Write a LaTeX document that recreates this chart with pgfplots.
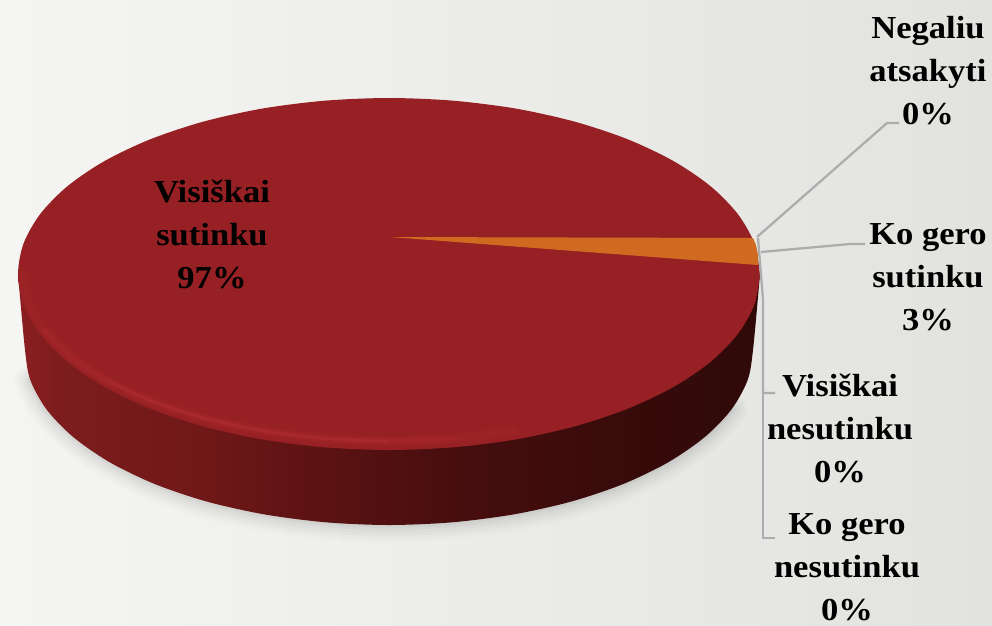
\documentclass[border=0pt]{standalone}
\usepackage{fontspec}
\setmainfont[FakeStretch=1.08]{Liberation Serif}
\usepackage{pgfplots}
\usepackage{pgfplotstable}
\pgfplotsset{compat=1.18}
\definecolor{topface}{HTML}{962023}
\definecolor{rimc}{HTML}{C23A3C}
\definecolor{wedge}{HTML}{CF6A20}
\definecolor{lead}{HTML}{ADADAD}
\definecolor{bgl}{HTML}{F5F5F3}
\definecolor{bgr}{HTML}{E2E2DF}
\definecolor{sa}{HTML}{8A1F21}
\definecolor{sb}{HTML}{7D1C1D}
\definecolor{sc}{HTML}{701818}
\definecolor{sd}{HTML}{5F1313}
\definecolor{se}{HTML}{480E0E}
\definecolor{sf}{HTML}{3A0B0B}
\definecolor{sg}{HTML}{300909}
\pgfdeclarehorizontalshading{sidewall}{100bp}{
color(0bp)=(sa);
color(25bp)=(sa);
color(27.8bp)=(sb);
color(37.3bp)=(sc);
color(44bp)=(sd);
color(54.1bp)=(se);
color(64.2bp)=(sf);
color(74.8bp)=(sg);
color(100bp)=(sg)}
\pgfplotstableread{
x y
760 274
754.4 304.6
737.6 334.2
710.3 362
673.2 387.1
627.5 408.8
574.5 426.4
515.9 439.4
453.4 447.3
389 450
324.6 447.3
262.1 439.4
203.5 426.4
150.5 408.8
104.8 387.1
67.7 362
40.4 334.2
23.6 304.6
18 274
23.6 243.4
40.4 213.8
67.7 186
104.8 160.9
150.5 139.2
203.5 121.6
262.1 108.6
324.6 100.7
389 98
453.4 100.7
515.9 108.6
574.5 121.6
627.5 139.2
673.2 160.9
710.3 186
737.6 213.8
754.4 243.4
760 274
}\topellipse
\pgfplotstableread{
x y
18 274
25 350
30.5 380.4
46.9 409.9
73.8 437.5
110.2 462.5
155 484.1
207 501.6
264.5 514.4
325.8 522.3
389 525
452.2 522.3
513.5 514.4
571 501.6
623 484.1
667.8 462.5
704.2 437.5
731.1 409.9
747.5 380.4
753 350
760 274
}\sidehull
\pgfplotstableread{
x y
30.5 380.4
46.9 409.9
73.8 437.5
110.2 462.5
155 484.1
207 501.6
264.5 514.4
325.8 522.3
389 525
452.2 522.3
513.5 514.4
571 501.6
623 484.1
667.8 462.5
704.2 437.5
731.1 409.9
}\shadowarc
\pgfplotstableread{
x y
23 274
28.6 303
45.1 331.1
72 357.5
108.6 381.3
153.7 401.9
206 418.6
263.8 430.9
325.4 438.5
389 441
452.6 438.5
514.2 430.9
}\rimA
\pgfplotstableread{
x y
45.1 331.1
72 357.5
108.6 381.3
153.7 401.9
206 418.6
263.8 430.9
325.4 438.5
389 441
452.6 438.5
}\rimB
\pgfplotstableread{
x y
108.6 381.3
153.7 401.9
206 418.6
263.8 430.9
325.4 438.5
389 441
}\rimC
\pgfplotstableread{
x y
390 237
753 238
756 245
758 255
758 265
}\wedgepts
\pgfplotstableread{
x y
757 237
887 123
899 123
}\leadA
\pgfplotstableread{
x y
761 252
850 244
865 244
}\leadB
\pgfplotstableread{
x y
758 238
763 300
763 393
775 393
}\leadC
\pgfplotstableread{
x y
763 393
763 538
775 538
}\leadD
\pgfplotstableread{
x y
0 0
992 0
992 625
0 625
}\bg
\begin{document}
\begin{tikzpicture}
\begin{axis}[at={(0,0)},anchor=south west,scale only axis,width=992pt,height=625pt,
  xmin=0,xmax=992,ymin=0,ymax=625,y dir=reverse,hide axis]
\addplot[draw=none,left color=bgl,right color=bgr] table {\bg} -- cycle;
% shadow
\addplot[black,opacity=.012,line width=34pt,line cap=round,smooth] table {\shadowarc};
\addplot[black,opacity=.015,line width=28pt,line cap=round,smooth] table {\shadowarc};
\addplot[black,opacity=.018,line width=22pt,line cap=round,smooth] table {\shadowarc};
\addplot[black,opacity=.02,line width=16pt,line cap=round,smooth] table {\shadowarc};
\addplot[black,opacity=.025,line width=10pt,line cap=round,smooth] table {\shadowarc};
\addplot[black,opacity=.03,line width=5pt,line cap=round,smooth] table {\shadowarc};
% side and top
\addplot[draw=none,shade,shading=sidewall,smooth] table {\sidehull} -- cycle;
\addplot[draw=none,fill=topface,smooth] table {\topellipse} -- cycle;
% bevel highlight
\addplot[rimc,opacity=.06,line width=12pt,line cap=round,smooth] table {\rimA};
\addplot[rimc,opacity=.08,line width=8pt,line cap=round,smooth] table {\rimA};
\addplot[rimc,opacity=.08,line width=8pt,line cap=round,smooth] table {\rimB};
\addplot[rimc,opacity=.1,line width=5pt,line cap=round,smooth] table {\rimB};
\addplot[rimc,opacity=.12,line width=3pt,line cap=round,smooth] table {\rimC};
\addplot[rimc,opacity=.15,line width=2pt,line cap=round,smooth] table {\rimC};
% wedge
\addplot[draw=none,fill=wedge] table {\wedgepts} -- cycle;
% leaders
\addplot[lead,line width=2.3pt] table {\leadA};
\addplot[lead,line width=2.3pt] table {\leadB};
\addplot[lead,line width=2.3pt] table {\leadC};
\addplot[lead,line width=2.3pt] table {\leadD};
\def\lab{\fontsize{32}{43}\selectfont\bfseries}
\node[align=center,font=\lab,inner sep=0pt] at (axis cs:928,71) {Negaliu\\atsakyti\\0\%};
\node[align=center,font=\lab,inner sep=0pt] at (axis cs:928,277) {Ko gero\\sutinku\\3\%};
\node[align=center,font=\lab,inner sep=0pt] at (axis cs:840,428) {Visiškai\\nesutinku\\0\%};
\node[align=center,font=\lab,inner sep=0pt] at (axis cs:847,567) {Ko gero\\nesutinku\\0\%};
\node[align=center,font=\lab,inner sep=0pt] at (axis cs:212,234) {Visiškai\\sutinku\\97\%};
\end{axis}
\end{tikzpicture}
\end{document}
